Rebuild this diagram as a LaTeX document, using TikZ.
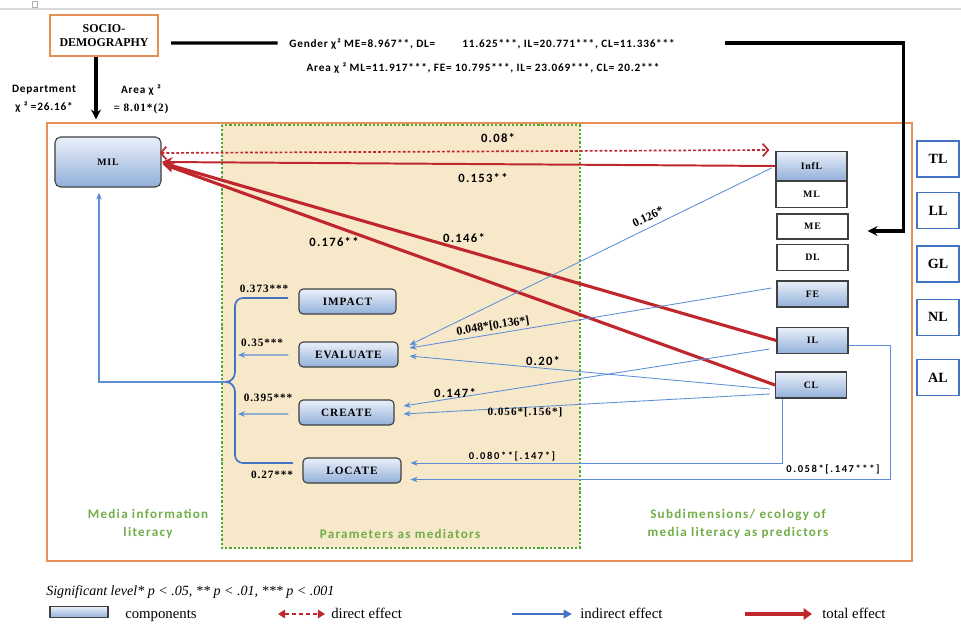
\documentclass[tikz,border=0pt]{standalone}
\usepackage{fontspec}
\setmainfont{Liberation Serif}
\newfontfamily\calibmid[LetterSpace=7]{Carlito}
\newfontfamily\calibsp[LetterSpace=10]{Carlito}
\newfontfamily\calibwide[LetterSpace=15]{Carlito}
\newfontfamily\serifsp[LetterSpace=8]{Liberation Serif}
\usepackage{xcolor}
\usepackage{tikz}
\usetikzlibrary{positioning, calc, arrows.meta}

\definecolor{milred}{HTML}{C0272D}
\definecolor{milblue}{HTML}{4472C4}
\definecolor{lineblue}{HTML}{5B8ED6}
\definecolor{boxorange}{HTML}{E59155}
\definecolor{dotgreen}{HTML}{4EA72E}
\definecolor{txtgreen}{HTML}{70AD47}
\definecolor{beige}{HTML}{F7E8CA}
\definecolor{comptop}{HTML}{EAF0F9}
\definecolor{compbot}{HTML}{92B0DA}

\begin{document}
\begin{tikzpicture}[
    x=0.025cm, y=-0.025cm,
    node distance=0.35cm,
    comp/.style={rectangle, draw=black!75, line width=0.8pt, top color=comptop, bottom color=compbot, inner sep=0pt},
    mediator/.style={comp, rounded corners=3pt, minimum height=0.625cm, font=\serifsp\bfseries\fontsize{8}{9}\selectfont},
    predictor/.style={comp, minimum width=1.775cm, minimum height=0.65cm, font=\serifsp\bfseries\fontsize{7}{8}\selectfont},
    plainbox/.style={rectangle, draw=black!75, line width=0.8pt, fill=white, inner sep=0pt, minimum width=1.775cm, minimum height=0.65cm, font=\serifsp\bfseries\fontsize{7}{8}\selectfont},
    levelbox/.style={rectangle, draw=milblue, line width=1pt, fill=white, minimum width=1.05cm, minimum height=0.9cm, font=\bfseries\fontsize{10}{12}\selectfont},
    sociobox/.style={rectangle, draw=boxorange, line width=1.5pt, fill=white, minimum width=2.7cm, minimum height=1.025cm, align=center, font=\bfseries\fontsize{8.5}{10.5}\selectfont},
    heavy/.style={line width=2.2pt, black},
    heavyarrow/.style={heavy, -{Stealth[length=7pt,width=7pt]}},
    direct/.style={milred, line width=1.2pt, dash pattern=on 2pt off 1.5pt, {Straight Barb[length=4pt,width=9pt]}-{Straight Barb[length=4pt,width=9pt]}},
    total/.style={milred, line width=2.2pt, -{Stealth[length=8pt,width=7pt]}},
    indirect/.style={lineblue, line width=0.6pt, -{Stealth[length=5pt,width=4pt]}},
    bracket/.style={milblue, line width=1.2pt},
    coef/.style={inner sep=1pt, font=\calibsp\bfseries\fontsize{9}{10}\selectfont},
    coefsmall/.style={inner sep=1pt, font=\calibwide\bfseries\fontsize{7.5}{9}\selectfont},
    coefserif/.style={inner sep=1pt, font=\serifsp\bfseries\fontsize{8}{9}\selectfont},
    coefslant/.style={inner sep=0pt, font=\bfseries\fontsize{8.5}{9}\selectfont},
    chi/.style={inner sep=1pt, align=center, font=\calibmid\bfseries\fontsize{8}{12.8}\selectfont},
    group/.style={align=center, text=txtgreen, font=\calibsp\bfseries\fontsize{9.3}{12.5}\selectfont},
    legtext/.style={anchor=base west, inner sep=0pt, font=\fontsize{10.5}{12}\selectfont}
]
    \useasboundingbox (0,0) rectangle (961,624);

    % Page header
    \draw[black!15, line width=1.5pt] (0,9) -- (961,9);
    \draw[black!30, line width=0.4pt] (32,1) rectangle (37,7);

    % Frames
    \draw[boxorange, line width=1.2pt] (47,123) rectangle (912,561);
    \draw[dotgreen, fill=beige, line width=1.6pt, dash pattern=on 1.6pt off 1.4pt] (222,125) rectangle (580,548);

    % Socio-demography
    \node[sociobox] (socio) at (104,35.5) {SOCIO-\\DEMOGRAPHY};
    \node[chi] (gender) at (482,44) {Gender χ² ME=8.967**, DL=\hspace{2.4em}11.625***, IL=20.771***, CL=11.336***};
    \node[chi] (area) at (483,68) {Area χ ² ML=11.917***, FE= 10.795***, IL= 23.069***, CL= 20.2***};
    \node[chi] (dept) at (44,99) {Department\\χ ² =26.16*};
    \node[chi] (areamil) at (141,99) {Area χ ²\\{\serifsp = 8.01*(2)}};

    % Components
    \node[comp, rounded corners=4pt, minimum width=2.65cm, minimum height=1.25cm, font=\serifsp\bfseries\fontsize{7}{8}\selectfont] (mil) at (108,162) {MIL};

    \node[mediator, minimum width=2.425cm] (impact) at (347.5,301.5) {IMPACT};
    \node[mediator, minimum width=2.475cm] (evaluate) at (348.5,354.5) {EVALUATE};
    \node[mediator, minimum width=2.375cm] (create) at (346.5,412.5) {CREATE};
    \node[mediator, minimum width=2.45cm] (locate) at (352,470.5) {LOCATE};

    \node[predictor, minimum height=0.725cm] (infl) at (811.5,166) {InfL};
    \node[plainbox, below=0pt of infl] (ml) {ML};
    \node[plainbox, minimum height=0.625cm] (me) at (812.5,226.5) {ME};
    \node[plainbox, below=0.1cm of me] (dl) {DL};
    \node[predictor] (fe) at (812.5,294) {FE};
    \node[predictor] (il) at (812.5,340.5) {IL};
    \node[predictor] (cl) at (811,385) {CL};

    \node[levelbox] (tl) at (938,159) {TL};
    \node[levelbox, below=of tl] (ll) {LL};
    \node[levelbox, below=0.4cm of ll] (gl) {GL};
    \node[levelbox, below=0.4cm of gl] (nl) {NL};
    \node[levelbox, below=0.575cm of nl] (al) {AL};

    % Socio-demography links
    \draw[heavy] ($(socio.east)+(12,7.5)$) -- ($(gender.west)+(-10,-1)$);
    \draw[heavyarrow] ($(gender.east)+(49,-1)$) -- ++(178,0) |- ($(me.east)+(19,4.5)$);
    \draw[heavyarrow] ($(socio.south)+(-8,0)$) -- ($(mil.north)+(-12,-17)$);

    % Direct and total effects
    \draw[direct] ($(mil.east)+(-2,-9)$) -- ($(infl.west)+(-6,-16)$);
    \draw[total, line width=1.4pt] (infl.west) -- (mil.east);
    \draw[total] (il.west) -- ($(mil.east)+(1,1)$);
    \draw[total] (cl.west) -- ($(mil.east)+(1,2)$);

    \node[coef] (c008) at (498,138) {0.08*};
    \node[coef] (c153) at (483,178) {0.153**};
    \node[coef] (c176) at (334,242) {0.176**};
    \node[coef] (c146) at (464,238) {0.146*};

    % Indirect effects
    \draw[indirect] ($(infl.west)+(-4,2)$) -- ($(evaluate.east)+(11,-9.5)$);
    \draw[indirect] ($(fe.west)+(-5,-6)$) -- ($(evaluate.east)+(11,-6.5)$);
    \draw[indirect] ($(cl.west)+(-5,4)$) -- ($(evaluate.east)+(11,1.5)$);
    \draw[indirect] ($(il.west)+(-7,8.5)$) -- ($(create.east)+(9,-6.5)$);
    \draw[indirect] ($(cl.west)+(-5,9)$) -- ($(create.east)+(9,1.5)$);
    \draw[indirect] ($(cl.south west)+(7,0)$) |- ($(locate.east)+(9,-7.5)$);
    \draw[indirect] ($(il.east)+(0,5)$) -- ++(42,0) |- ($(locate.east)+(9,9)$);

    \node[coefslant, rotate=26] (c126) at (648,217) {0.126*};
    \node[coefslant, rotate=9] (c048) at (493,326) {0.048*[0.136*]};
    \node[coef] (c020) at (543,361) {0.20*};
    \node[coef] (c147) at (455,393) {0.147*};
    \node[coefserif] (c056) at (525,412) {0.056*[.156*]};
    \node[coefsmall] (c080) at (512,456) {0.080**[.147*]};
    \node[coefsmall] (c058) at (833,469) {0.058*[.147***]};

    % Mediators to MIL
    \coordinate (bracetip) at (226,382);
    \coordinate (beval) at (238,355);
    \coordinate (bcreate) at (238,414);
    \draw[bracket] (288,298) -- (243,298) to[out=180,in=90] (235,306) -- (235,372)
        to[out=-90,in=0] (bracetip) to[out=0,in=90] (235,392) -- (235,455)
        to[out=-90,in=180] (243,463) -- (293,463);
    \draw[indirect, line width=1.2pt] (bracetip) -| ($(mil.south)+(-9,5)$);
    \draw[indirect, line width=0.9pt] ($(evaluate.west)+(-10,0.5)$) -- (beval);
    \draw[indirect, line width=0.9pt] ($(create.west)+(-10,1.5)$) -- (bcreate);

    \node[coefserif] (c373) at (264,289) {0.373***};
    \node[coefserif] (c035) at (262,343) {0.35***};
    \node[coefserif] (c395) at (268,398) {0.395***};
    \node[coefserif] (c027) at (272,475) {0.27***};

    % Group captions
    \node[group] (gmil) at (148,524) {Media information\\literacy};
    \node[group] (gmed) at (400,534) {Parameters as mediators};
    \node[group] (gpred) at (738,524) {Subdimensions/ ecology of\\media literacy as predictors};

    % Legend
    \node[anchor=west, inner sep=0pt, font=\itshape\fontsize{10}{12}\selectfont] (siglevel) at (46,592) {Significant level* p < .05, ** p < .01, *** p < .001};
    \node[comp, minimum width=1.45cm, minimum height=0.275cm] (legcomp) at (79,612) {};
    \node[legtext] (legcomptext) at (125,618) {components};
    \coordinate (dira) at (278,614);
    \coordinate (dirb) at (325,614);
    \draw[milred, line width=1.5pt, dash pattern=on 3pt off 2pt, {Triangle[length=5pt,width=6pt]}-{Triangle[length=5pt,width=6pt]}] (dira) -- (dirb);
    \node[legtext] (legdirect) at (331,618) {direct effect};
    \coordinate (inda) at (512,614);
    \coordinate (indb) at (572,614);
    \draw[milblue, line width=1.5pt, -{Triangle[length=6pt,width=6pt]}] (inda) -- (indb);
    \node[legtext] (legindirect) at (580,618) {indirect effect};
    \coordinate (tota) at (745,614);
    \coordinate (totb) at (812,614);
    \draw[milred, line width=3pt, -{Triangle[length=6pt,width=8pt]}] (tota) -- (totb);
    \node[legtext] (legtotal) at (822,618) {total effect};

\end{tikzpicture}
\end{document}
